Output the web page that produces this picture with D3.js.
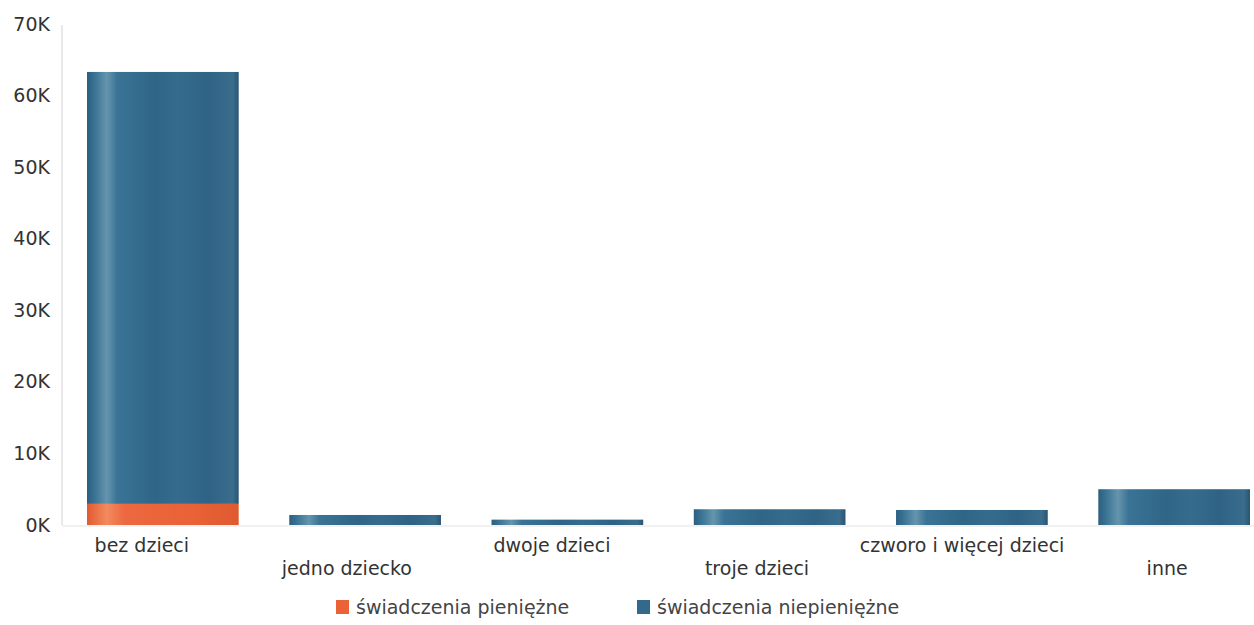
<!DOCTYPE html>
<html><head><meta charset="utf-8">
<script src="https://cdn.jsdelivr.net/npm/d3@7/dist/d3.min.js"></script>
<style>body{margin:0;background:#fff;}svg{display:block;font-family:"DejaVu Sans",sans-serif;}</style>
</head><body>
<svg id="c" width="1254" height="625"></svg>
<script>
const categories = ["bez dzieci","jedno dziecko","dwoje dzieci","troje dzieci","czworo i więcej dzieci","inne"];
const seriesNames = ["świadczenia pieniężne","świadczenia niepieniężne"];
const pieniezne = [2950, 0, 0, 0, 0, 0];
const niepieniezne = [60350, 1400, 750, 2200, 2100, 5000];
const yTicks = [0,10000,20000,30000,40000,50000,60000,70000];
const colors = ["#ea6235","#33698d"];

const svg = d3.select("#c");
const defs = svg.append("defs");
function grad(id, stops){
  const g = defs.append("linearGradient").attr("id",id).attr("x1","0").attr("x2","1").attr("y1","0").attr("y2","0");
  stops.forEach(s=>g.append("stop").attr("offset",s[0]).attr("stop-color",s[1]));
}
grad("gb",[["0","#2c5e80"],["0.05","#3a7394"],["0.13","#6595ad"],["0.2","#3a7395"],["0.45","#2f6688"],["0.6","#356c8e"],["0.8","#2f6385"],["0.96","#3a6d8c"],["1","#2a5473"]]);
grad("go",[["0","#e35a30"],["0.13","#f28a5e"],["0.25","#ec6840"],["0.7","#ea6236"],["1","#df5a30"]]);

const y = d3.scaleLinear().domain([0,70000]).range([525,24]);
const x = d3.scaleBand().domain(categories).range([87,1250]).paddingInner(0.25).paddingOuter(0);

// axis lines
svg.append("line").attr("x1",62).attr("x2",62).attr("y1",y(70000)+1).attr("y2",y(0)).attr("stroke","#e8e8e8").attr("stroke-width",2);
svg.append("line").attr("x1",62).attr("x2",1254).attr("y1",y(0)+1).attr("y2",y(0)+1).attr("stroke","#ececec").attr("stroke-width",1.5);

// y axis
const yAxis = svg.append("g").attr("transform","translate(50,0)")
  .call(d3.axisLeft(y).tickValues(yTicks).tickSize(0).tickPadding(0).tickFormat(d=>(d/1000)+"K"));
yAxis.select(".domain").remove();
yAxis.selectAll("text").attr("font-size",19).attr("fill","#333").attr("font-family","'DejaVu Sans',sans-serif");

// stacked bars
const data = categories.map((c,i)=>({cat:c, [seriesNames[0]]:pieniezne[i], [seriesNames[1]]:niepieniezne[i]}));
const stacked = d3.stack().keys(seriesNames)(data);
const fills = ["url(#go)","url(#gb)"];
svg.append("g").selectAll("g").data(stacked).join("g")
  .attr("fill",(d,i)=>fills[i])
  .selectAll("rect").data(d=>d).join("rect")
  .attr("x",d=>x(d.data.cat))
  .attr("width",x.bandwidth())
  .attr("y",d=>y(d[1]))
  .attr("height",d=>Math.max(0,y(d[0])-y(d[1])));

// x labels (staggered)
svg.append("g").selectAll("text").data(categories).join("text")
  .attr("x",(d,i)=>x(d)+x.bandwidth()/2-21+2.8*i)
  .attr("y",(d,i)=> i%2===0 ? 552 : 575)
  .attr("text-anchor","middle")
  .attr("font-size",19).attr("fill","#333")
  .text(d=>d);

// legend
const legX = [336, 637];
const lg = svg.append("g");
seriesNames.forEach((s,i)=>{
  lg.append("rect").attr("x",legX[i]).attr("y",600).attr("width",13).attr("height",14).attr("fill",colors[i]);
  lg.append("text").attr("x",legX[i]+20).attr("y",614).attr("font-size",19).attr("fill","#444").text(s);
});
</script>
</body></html>
